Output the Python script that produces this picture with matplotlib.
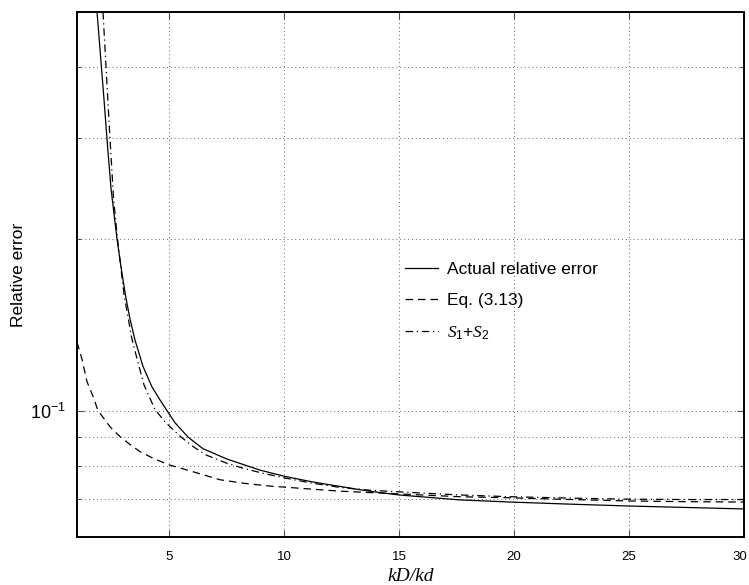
#!/usr/bin/env python3
"""Relative error against kD/kd: actual error, Eq. (3.13) and S1+S2."""

import matplotlib

matplotlib.use("Agg")
import matplotlib.pyplot as plt
import matplotlib.transforms as mtransforms
from matplotlib.ticker import FixedLocator, LogLocator, NullFormatter

plt.rcParams["font.family"] = ["Liberation Sans", "DejaVu Sans"]
plt.rcParams["mathtext.fontset"] = "custom"
plt.rcParams["mathtext.rm"] = "Liberation Sans"
plt.rcParams["mathtext.it"] = "Liberation Serif:italic"

# values
actual_x = [1.87, 2.00, 2.17, 2.33, 2.48, 2.61, 2.74, 2.91, 3.11, 3.30, 3.52,
            3.87, 4.26, 4.60, 4.91, 5.25, 5.83, 6.48, 7.52, 8.96, 10,
            11.2, 12.43, 13.7, 15, 17.65, 19.83, 22.5, 25, 27.5, 30]
actual_y = [0.50, 0.43, 0.353, 0.29, 0.245, 0.221, 0.20, 0.179, 0.159, 0.145,
            0.133, 0.1195, 0.110, 0.1045, 0.100, 0.0953, 0.0898, 0.0857,
            0.0822, 0.0786, 0.0767, 0.0750, 0.0736, 0.0722, 0.0711, 0.0697,
            0.0691, 0.0685, 0.0680, 0.0676, 0.0672]

eq_x = [1.0, 1.22, 1.43, 1.70, 1.91, 2.43, 2.87, 3.30, 3.74, 4.35, 5.0, 6.04,
        7.22, 8.3, 9.39, 10, 11.2, 12.43, 13.7, 15, 17.65, 19.83, 22.5, 25,
        27.5, 30]
eq_y = [0.1318, 0.1229, 0.1125, 0.1058, 0.100, 0.0937, 0.0900, 0.0872,
        0.0847, 0.0823, 0.0803, 0.0781, 0.0756, 0.0745, 0.0737, 0.0734,
        0.0728, 0.0722, 0.0718, 0.0714, 0.0706, 0.0703, 0.0698, 0.0694,
        0.0692, 0.0691]

s12_x = [2.13, 2.26, 2.43, 2.59, 2.76, 3.05, 3.39, 3.65, 3.91, 4.39, 4.83,
         5.04, 5.50, 6.04, 6.60, 7.52, 8.22, 9.09, 10, 11.2, 12.43, 13.7, 15,
         17.65, 19.83, 22.5, 25, 27.5, 30]
s12_y = [0.50, 0.402, 0.302, 0.235, 0.200, 0.159, 0.1334, 0.1215, 0.111,
         0.1004, 0.0955, 0.0937, 0.0900, 0.0865, 0.0836, 0.0808, 0.0792,
         0.0776, 0.0762, 0.0746, 0.0733, 0.0725, 0.0720, 0.0711, 0.0706,
         0.0702, 0.0699, 0.0698, 0.0698]

x_ticks = [5, 10, 15, 20, 25, 30]

fig = plt.figure(figsize=(7.49, 5.85), dpi=100)
ax = fig.add_axes([77 / 749, 1 - 537 / 585, 667 / 749, 525 / 585])

ax.plot(actual_x, actual_y, color="black", lw=0.9, label="Actual relative error")
ax.plot(eq_x, eq_y, color="black", lw=0.9, dashes=(6, 4), label="Eq. (3.13)")
ax.plot(s12_x, s12_y, color="black", lw=0.9, dashes=(6, 3, 1, 3),
        label=r"$\mathit{S}_1$+$\mathit{S}_2$")

ax.set_yscale("log")
ax.set_xlim(1, 30)
ax.set_ylim(0.06, 0.5)
ax.xaxis.set_major_locator(FixedLocator(x_ticks))
ax.yaxis.set_major_locator(LogLocator(base=10))
ax.yaxis.set_minor_locator(LogLocator(base=10, subs=range(2, 10)))
ax.yaxis.set_minor_formatter(NullFormatter())

ax.grid(True, which="major", axis="x", color="0.4", linestyle=(0, (1, 3)), lw=0.7)
ax.grid(True, which="both", axis="y", color="0.4", linestyle=(0, (1, 3)), lw=0.7)

ax.tick_params(which="both", direction="in", top=True, right=True,
               width=0.8, color="0.3")
ax.tick_params(which="major", length=5)
ax.tick_params(which="minor", length=3)
ax.tick_params(axis="x", labelsize=9.5, pad=10)
ax.tick_params(axis="y", labelsize=13, pad=8)
for spine in ax.spines.values():
    spine.set_linewidth(1.4)

# the "30" label sits against the right edge, nudge it in a little
fig.canvas.draw()
last = ax.get_xticklabels()[-1]
last.set_transform(last.get_transform()
                   + mtransforms.ScaledTranslation(-4 / 100, 0, fig.dpi_scale_trans))

ax.set_ylabel("Relative error", fontsize=12.5, labelpad=3)
ax.set_xlabel("kD/kd", fontsize=14, family="Liberation Serif", style="italic",
              labelpad=4)

ax.legend(loc="upper left", bbox_to_anchor=(405 / 749, 1 - 262 / 585),
          bbox_transform=fig.transFigure, frameon=False, fontsize=12.5,
          handlelength=1.9, handletextpad=0.5, labelspacing=0.92,
          borderpad=0, borderaxespad=0)

fig.savefig("out.png", dpi=100)
